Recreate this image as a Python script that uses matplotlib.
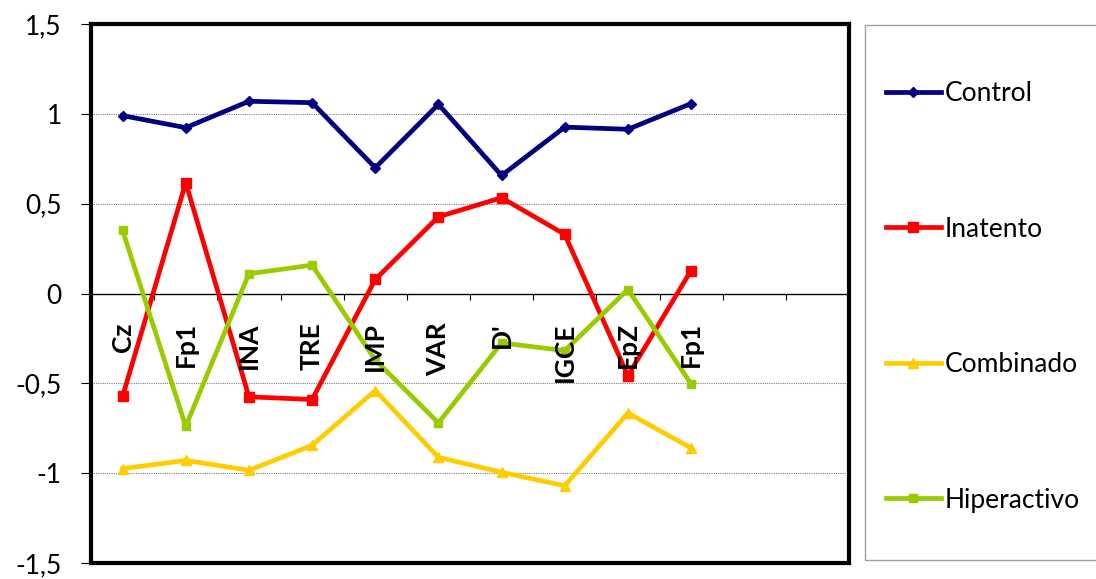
import matplotlib.pyplot as plt
from matplotlib.patches import Rectangle
import numpy as np

plt.rcParams['font.family'] = ['Lato', 'DejaVu Sans']

categories = ['Cz', 'Fp1', 'INA', 'TRE', 'IMP', 'VAR', "D'", 'IGCE', 'EpZ', 'Fp1']
n_slots = 12  # the category axis has two empty slots at the end

control = [0.99, 0.923, 1.07, 1.062, 0.70, 1.053, 0.657, 0.926, 0.914, 1.057]
inatento = [-0.573, 0.617, -0.575, -0.59, 0.078, 0.427, 0.533, 0.329, -0.457, 0.128]
combinado = [-0.975, -0.929, -0.984, -0.845, -0.54, -0.912, -0.995, -1.07, -0.665, -0.86]
hiperactivo = [0.351, -0.739, 0.11, 0.158, -0.37, -0.72, -0.275, -0.318, 0.022, -0.503]

yticks = [-1.5, -1, -0.5, 0, 0.5, 1, 1.5]
ytick_labels = ['-1,5', '-1', '-0,5', '0', '0,5', '1', '1,5']

series = [
    ('Control', control, '#000080', 'D', 5),
    ('Inatento', inatento, '#FF0000', 's', 7),
    ('Combinado', combinado, '#FFCC00', '^', 7),
    ('Hiperactivo', hiperactivo, '#99CC00', 's', 6),
]

fig = plt.figure(figsize=(10.96, 5.79), dpi=100)
ax = fig.add_axes([91 / 1096, 1 - 563 / 579, 758 / 1096, 539 / 579])

x = np.arange(len(categories))
for name, vals, color, marker, ms in series:
    ax.plot(x, vals, color=color, lw=3.4, marker=marker, markersize=ms,
            label=name, zorder=3)

ax.set_xlim(-0.5, n_slots - 0.5)
ax.set_ylim(-1.5, 1.5)

# gridlines
for y in [-1, -0.5, 0.5, 1]:
    ax.axhline(y, color='#808080', lw=0.8, ls=(0, (1, 1)), zorder=1)
ax.axhline(0, color='black', lw=1, zorder=2)

# category ticks on the zero line
ax.vlines(np.arange(n_slots + 1) - 0.5, -0.035, 0, color='black', lw=0.8, zorder=2)

# category labels, rotated, just below the zero line
for xi, lab in zip(x, categories):
    ax.text(xi, -0.16, lab, rotation=90, ha='center', va='top',
            fontsize=19, fontweight='bold', zorder=4)

ax.set_xticks([])
ax.set_yticks(yticks)
ax.set_yticklabels(ytick_labels, fontsize=19)
ax.tick_params(axis='y', length=7, width=0.8, pad=14)

for sp in ax.spines.values():
    sp.set_linewidth(3)
    sp.set_color('black')

# legend box
fig.patches.append(Rectangle((865 / 1096, 1 - 560 / 579), 0.5, 535 / 579,
                             transform=fig.transFigure, fill=False,
                             edgecolor='#A0A0A0', lw=1))
fig.legend(loc='upper left', bbox_to_anchor=(886 / 1096, 1 - 81 / 579),
           frameon=False, fontsize=19, borderpad=0, borderaxespad=0,
           labelspacing=4.19, handlelength=2.08, handletextpad=0.15)

fig.savefig('out.png', dpi=100)
